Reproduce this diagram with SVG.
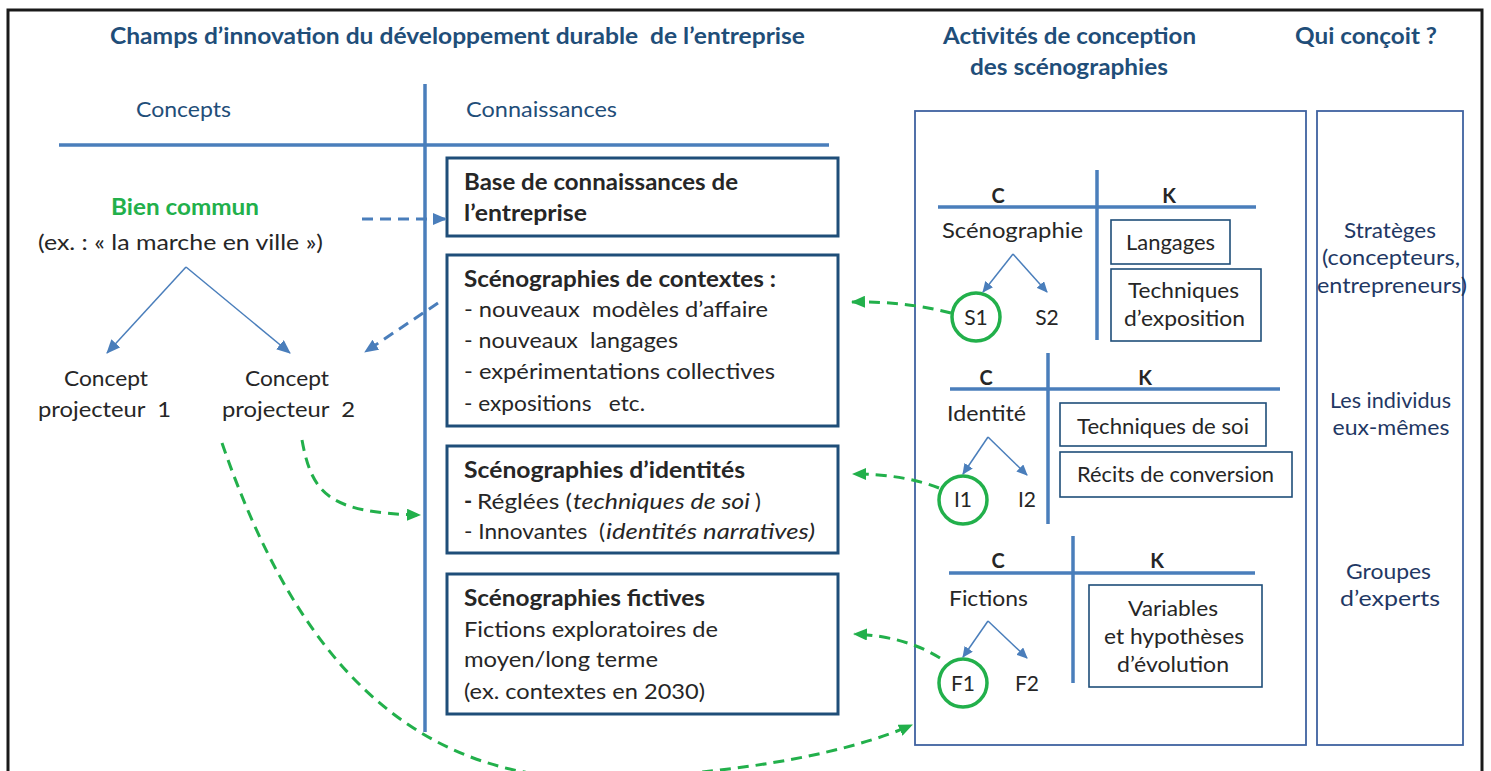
<svg xmlns="http://www.w3.org/2000/svg" width="1491" height="771" viewBox="0 0 1491 771">
<style>
text{font-family:Lato,"Open Sans","Liberation Sans",sans-serif;white-space:pre}
.hd{font-size:23px;font-weight:bold;fill:#1f4e79}
.sub{font-size:22px;fill:#1f4e79}
.tx{font-size:22px;fill:#262626}
.b{font-weight:bold}
.i{font-style:italic}
.gr{font-size:22px;font-weight:bold;fill:#22b04b}
.ck{font-size:20px;font-weight:bold;fill:#262626}
.rt{font-size:21px;fill:#262626}
.qu{font-size:21px;fill:#1f3864}
.box{fill:#fff;stroke:#1f4e79;stroke-width:3}
.kbox{fill:#fff;stroke:#1f4e79;stroke-width:1.6}
.pan{fill:none;stroke:#3f62a0;stroke-width:1.8}
.axis{stroke:#4a7ebb;stroke-width:3.5;fill:none}
.tree{stroke:#4a7ebb;stroke-width:1.5;fill:none}
.bd{stroke:#4a7ebb;stroke-width:3;fill:none;stroke-dasharray:11 7}
.gd{stroke:#22b04b;stroke-width:3;fill:none;stroke-dasharray:11 7}
.circ{fill:none;stroke:#22b04b;stroke-width:3.5}
</style>
<defs>
<marker id="ab" viewBox="0 0 14 12" refX="13" refY="6" markerWidth="14" markerHeight="12" markerUnits="userSpaceOnUse" orient="auto"><path d="M0,0 L14,6 L0,12z" fill="#4a7ebb"/></marker>
<marker id="abs" viewBox="0 0 11 10" refX="10" refY="5" markerWidth="11" markerHeight="10" markerUnits="userSpaceOnUse" orient="auto"><path d="M0,0 L11,5 L0,10z" fill="#4a7ebb"/></marker>
<marker id="ag" viewBox="0 0 14 12" refX="13" refY="6" markerWidth="14" markerHeight="12" markerUnits="userSpaceOnUse" orient="auto"><path d="M0,0 L14,6 L0,12z" fill="#22b04b"/></marker>
</defs>
<rect x="0" y="0" width="1491" height="771" fill="#fff"/>
<rect x="8" y="10" width="1474" height="800" fill="none" stroke="#1a1a1a" stroke-width="3"/>

<g id="headers">
<text class="hd" x="110" y="44" textLength="695" lengthAdjust="spacingAndGlyphs">Champs d’innovation du développement durable  de l’entreprise</text>
<text class="hd" x="1069.5" y="44" text-anchor="middle" textLength="253" lengthAdjust="spacingAndGlyphs">Activités de conception</text>
<text class="hd" x="1069" y="75" text-anchor="middle" textLength="198" lengthAdjust="spacingAndGlyphs">des scénographies</text>
<text class="hd" x="1366" y="44" text-anchor="middle" textLength="142" lengthAdjust="spacingAndGlyphs">Qui conçoit ?</text>
<text class="sub" x="183.5" y="117" text-anchor="middle" textLength="95" lengthAdjust="spacingAndGlyphs">Concepts</text>
<text class="sub" x="466" y="117" textLength="151" lengthAdjust="spacingAndGlyphs">Connaissances</text>
</g>

<g id="ck-axes">
<line class="axis" x1="59" y1="145" x2="829" y2="145"/>
<line class="axis" x1="425" y1="84" x2="425" y2="732"/>
</g>

<g id="bien-commun">
<text class="gr" x="185" y="215" text-anchor="middle" textLength="148" lengthAdjust="spacingAndGlyphs">Bien commun</text>
<text class="tx" x="180.5" y="250" text-anchor="middle" textLength="285" lengthAdjust="spacingAndGlyphs">(ex. : « la marche en ville »)</text>
</g>
<g id="concept-1">
<text class="tx" x="106" y="386" text-anchor="middle" textLength="84" lengthAdjust="spacingAndGlyphs">Concept</text>
<text class="tx" x="104.5" y="417" text-anchor="middle" textLength="133" lengthAdjust="spacingAndGlyphs">projecteur  1</text>
</g>
<g id="concept-2">
<text class="tx" x="287" y="386" text-anchor="middle" textLength="84" lengthAdjust="spacingAndGlyphs">Concept</text>
<text class="tx" x="288.5" y="417" text-anchor="middle" textLength="133" lengthAdjust="spacingAndGlyphs">projecteur  2</text>
</g>

<g id="box-base">
<rect class="box" x="447" y="158" width="391" height="78"/>
<text class="tx b" x="464" y="190" textLength="274" lengthAdjust="spacingAndGlyphs">Base de connaissances de</text>
<text class="tx b" x="464" y="221" textLength="123" lengthAdjust="spacingAndGlyphs">l’entreprise</text>
</g>
<g id="box-contextes">
<rect class="box" x="447" y="255" width="391" height="171"/>
<text class="tx b" x="464" y="287" textLength="312" lengthAdjust="spacingAndGlyphs">Scénographies de contextes :</text>
<text class="tx" x="464" y="317" textLength="304" lengthAdjust="spacingAndGlyphs">- nouveaux  modèles d’affaire</text>
<text class="tx" x="464" y="348" textLength="214" lengthAdjust="spacingAndGlyphs">- nouveaux  langages</text>
<text class="tx" x="464" y="379" textLength="311" lengthAdjust="spacingAndGlyphs">- expérimentations collectives</text>
<text class="tx" x="464" y="411" textLength="181" lengthAdjust="spacingAndGlyphs">- expositions   etc.</text>
</g>
<g id="box-identites">
<rect class="box" x="447" y="446" width="391" height="107"/>
<text class="tx b" x="464" y="478" textLength="281" lengthAdjust="spacingAndGlyphs">Scénographies d’identités</text>
<text class="tx b" x="464" y="509">-</text>
<text class="tx" x="477" y="509" textLength="95" lengthAdjust="spacingAndGlyphs">Réglées (</text>
<text class="tx i" x="573" y="509" textLength="177" lengthAdjust="spacingAndGlyphs">techniques de soi</text>
<text class="tx" x="755" y="509">)</text>
<text class="tx" x="464" y="539" textLength="141" lengthAdjust="spacingAndGlyphs">- Innovantes  (</text>
<text class="tx i" x="606" y="539" textLength="209" lengthAdjust="spacingAndGlyphs">identités narratives)</text>
</g>
<g id="box-fictives">
<rect class="box" x="447" y="574" width="391" height="140"/>
<text class="tx b" x="464" y="606" textLength="241" lengthAdjust="spacingAndGlyphs">Scénographies fictives</text>
<text class="tx" x="464" y="637" textLength="254" lengthAdjust="spacingAndGlyphs">Fictions exploratoires de</text>
<text class="tx" x="464" y="667" textLength="194" lengthAdjust="spacingAndGlyphs">moyen/long terme</text>
<text class="tx" x="464" y="699" textLength="241" lengthAdjust="spacingAndGlyphs">(ex. contextes en 2030)</text>
</g>

<g id="panel-activites">
<rect class="pan" x="915" y="111" width="391" height="634"/>
</g>
<g id="panel-qui">
<rect class="pan" x="1317" y="111" width="146" height="634"/>
<text class="qu" x="1390" y="238" text-anchor="middle" textLength="92" lengthAdjust="spacingAndGlyphs">Stratèges</text>
<text class="qu" x="1391" y="265" text-anchor="middle" textLength="138" lengthAdjust="spacingAndGlyphs">(concepteurs,</text>
<text class="qu" x="1392" y="293" text-anchor="middle" textLength="150" lengthAdjust="spacingAndGlyphs">entrepreneurs)</text>
<text class="qu" x="1390.5" y="408" text-anchor="middle" textLength="121" lengthAdjust="spacingAndGlyphs">Les individus</text>
<text class="qu" x="1391" y="435" text-anchor="middle" textLength="117" lengthAdjust="spacingAndGlyphs">eux-mêmes</text>
<text class="qu" x="1388.5" y="579" text-anchor="middle" textLength="85" lengthAdjust="spacingAndGlyphs">Groupes</text>
<text class="qu" x="1390" y="606" text-anchor="middle" textLength="100" lengthAdjust="spacingAndGlyphs">d’experts</text>
</g>

<g id="ck-scenographie">
<line class="axis" x1="938" y1="207" x2="1256" y2="207"/>
<line class="axis" x1="1097" y1="170" x2="1097" y2="340"/>
<text class="ck" x="998" y="203" text-anchor="middle">C</text>
<text class="ck" x="1169" y="203" text-anchor="middle">K</text>
<text class="rt" x="942" y="238" textLength="141" lengthAdjust="spacingAndGlyphs">Scénographie</text>
<circle class="circ" cx="976" cy="317" r="24"/>
<text class="rt" x="976" y="325" text-anchor="middle">S1</text>
<text class="rt" x="1047" y="325" text-anchor="middle">S2</text>
<rect class="kbox" x="1111" y="220" width="119" height="44"/>
<text class="rt" x="1170.5" y="250" text-anchor="middle" textLength="89" lengthAdjust="spacingAndGlyphs">Langages</text>
<rect class="kbox" x="1111" y="269" width="150" height="72"/>
<text class="rt" x="1183.5" y="298" text-anchor="middle" textLength="111" lengthAdjust="spacingAndGlyphs">Techniques</text>
<text class="rt" x="1184.5" y="326" text-anchor="middle" textLength="121" lengthAdjust="spacingAndGlyphs">d’exposition</text>
</g>
<g id="ck-identite">
<line class="axis" x1="950" y1="389" x2="1280" y2="389"/>
<line class="axis" x1="1048" y1="353" x2="1048" y2="524"/>
<text class="ck" x="986" y="385" text-anchor="middle">C</text>
<text class="ck" x="1145" y="385" text-anchor="middle">K</text>
<text class="rt" x="947" y="421" textLength="79" lengthAdjust="spacingAndGlyphs">Identité</text>
<circle class="circ" cx="963" cy="500" r="24"/>
<text class="rt" x="963" y="507" text-anchor="middle">I1</text>
<text class="rt" x="1027" y="507" text-anchor="middle">I2</text>
<rect class="kbox" x="1060" y="403" width="206" height="43"/>
<text class="rt" x="1163" y="434" text-anchor="middle" textLength="172" lengthAdjust="spacingAndGlyphs">Techniques de soi</text>
<rect class="kbox" x="1060" y="452" width="232" height="45"/>
<text class="rt" x="1175.5" y="482" text-anchor="middle" textLength="197" lengthAdjust="spacingAndGlyphs">Récits de conversion</text>
</g>
<g id="ck-fictions">
<line class="axis" x1="949" y1="573" x2="1255" y2="573"/>
<line class="axis" x1="1073" y1="536" x2="1073" y2="683"/>
<text class="ck" x="998" y="568" text-anchor="middle">C</text>
<text class="ck" x="1157" y="568" text-anchor="middle">K</text>
<text class="rt" x="949" y="606" textLength="79" lengthAdjust="spacingAndGlyphs">Fictions</text>
<circle class="circ" cx="963" cy="683" r="24"/>
<text class="rt" x="963" y="691" text-anchor="middle">F1</text>
<text class="rt" x="1027" y="691" text-anchor="middle">F2</text>
<rect class="kbox" x="1089" y="585" width="173" height="102"/>
<text class="rt" x="1173" y="616" text-anchor="middle" textLength="90" lengthAdjust="spacingAndGlyphs">Variables</text>
<text class="rt" x="1174" y="644" text-anchor="middle" textLength="140" lengthAdjust="spacingAndGlyphs">et hypothèses</text>
<text class="rt" x="1173" y="672" text-anchor="middle" textLength="112" lengthAdjust="spacingAndGlyphs">d’évolution</text>
</g>

<g id="connectors">
<line class="tree" x1="186" y1="267" x2="107" y2="353" marker-end="url(#ab)"/>
<line class="tree" x1="186" y1="267" x2="290" y2="353" marker-end="url(#ab)"/>
<line class="tree" x1="1013" y1="254" x2="983" y2="292" marker-end="url(#abs)"/>
<line class="tree" x1="1013" y1="254" x2="1047" y2="292" marker-end="url(#abs)"/>
<line class="tree" x1="988" y1="437" x2="963" y2="474" marker-end="url(#abs)"/>
<line class="tree" x1="988" y1="437" x2="1027" y2="475" marker-end="url(#abs)"/>
<line class="tree" x1="988" y1="621" x2="963" y2="657" marker-end="url(#abs)"/>
<line class="tree" x1="988" y1="621" x2="1027" y2="658" marker-end="url(#abs)"/>
<path class="bd" d="M362,219 L446,219" marker-end="url(#ab)"/>
<path class="bd" d="M438,303 L365,352" marker-end="url(#ab)"/>
<path class="gd" d="M302,440 C312,495 330,513 420,515" marker-end="url(#ag)"/>
<path class="gd" d="M222,443 C290,640 400,790 620,778 C750,772 850,752 912,725" marker-end="url(#ag)"/>
<path class="gd" d="M951,313 Q905,301 852,302" marker-end="url(#ag)"/>
<path class="gd" d="M939,488 Q903,474 853,474" marker-end="url(#ag)"/>
<path class="gd" d="M940,658 Q905,636 854,634" marker-end="url(#ag)"/>
</g>
</svg>
